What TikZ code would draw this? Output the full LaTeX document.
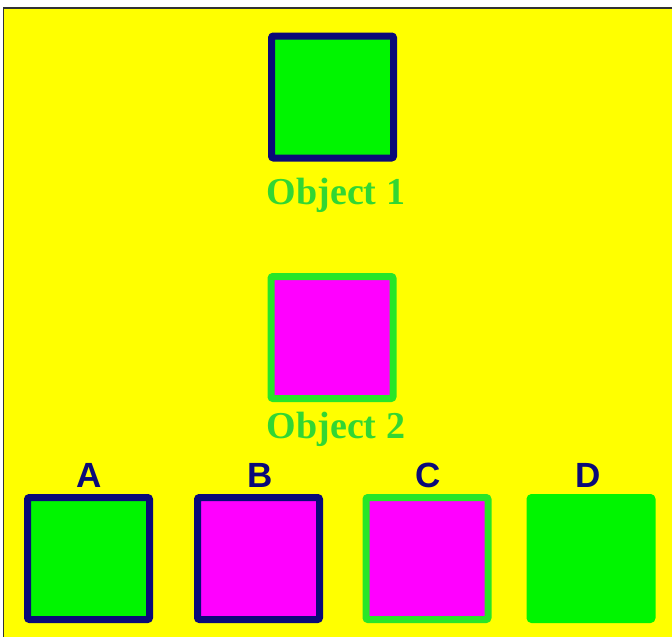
\documentclass[tikz,border=0pt]{standalone}
\usepackage{fontspec}
\setmainfont{Liberation Serif}
\setsansfont{Liberation Sans}
\usepackage{xcolor}
\usepackage{tikz}
\usetikzlibrary{positioning}

\definecolor{bgyellow}{RGB}{255,255,0}
\definecolor{limegreen}{RGB}{0,245,0}
\definecolor{edgegreen}{RGB}{40,230,40}
\definecolor{txtgreen}{RGB}{50,215,50}
\definecolor{darknavy}{RGB}{10,10,120}
\definecolor{pinkfill}{RGB}{255,0,255}

\begin{document}
\begin{tikzpicture}[x=1pt, y=-1pt,
  tile/.style={rectangle, rounded corners=2pt, line width=7pt, minimum size=122pt, inner sep=0pt},
  objlabel/.style={anchor=base, text=txtgreen, font=\fontsize{38}{38}\selectfont\bfseries},
  choice/.style={anchor=base, text=darknavy, font=\fontsize{35}{35}\selectfont\sffamily\bfseries}]
  \useasboundingbox (0,0) rectangle (672,637);
  \fill[white] (0,0) rectangle (672,637);
  \fill[bgyellow] (3.5,8) rectangle (672,637);
  \draw[line width=1.2pt, black!80] (3.5,637) -- (3.5,8) -- (672,8);

  % the two objects
  \node[tile, draw=darknavy, fill=limegreen] (obj1) at (332.5,97) {};
  \node[objlabel] (obj1lbl) at (336,204) {Object 1};
  \node[tile, draw=edgegreen, fill=pinkfill] (obj2) at (332,337.5) {};
  \node[objlabel] (obj2lbl) at (336,438) {Object 2};

  % the four choices
  \node[tile, draw=darknavy, fill=limegreen] (boxA) at (88.5,558.5) {};
  \node[tile, draw=darknavy, fill=pinkfill] (boxB) at (258.5,558.5) {};
  \node[tile, draw=edgegreen, fill=pinkfill] (boxC) at (427,558.5) {};
  \node[tile, draw=limegreen, fill=limegreen] (boxD) at (591,558.5) {};
  \node[choice] (lblA) at (89,487) {A};
  \node[choice] (lblB) at (260,487) {B};
  \node[choice] (lblC) at (428,487) {C};
  \node[choice] (lblD) at (588,487) {D};
\end{tikzpicture}
\end{document}
